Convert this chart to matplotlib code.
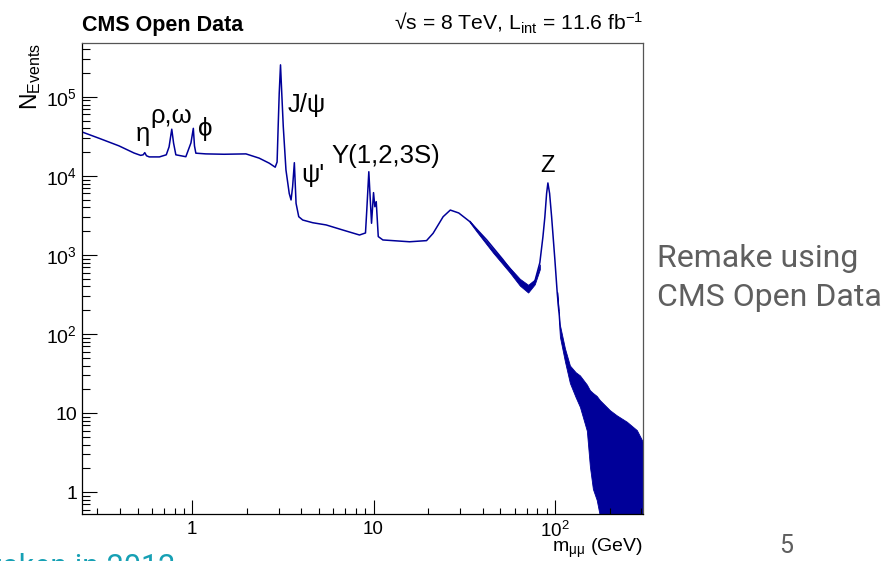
import numpy as np
import matplotlib
matplotlib.use("Agg")
import matplotlib.pyplot as plt
from matplotlib.ticker import LogLocator, NullFormatter

plt.rcParams['font.family'] = ['Liberation Sans', 'DejaVu Sans']
plt.rcParams['mathtext.fontset'] = 'custom'
plt.rcParams['mathtext.rm'] = 'Liberation Sans'
plt.rcParams['mathtext.it'] = 'Liberation Sans:italic'
plt.rcParams['mathtext.bf'] = 'Liberation Sans:bold'
plt.rcParams['mathtext.default'] = 'regular'

# dimuon invariant mass spectrum (GeV, events per bin)
mass = [0.247, 0.306, 0.395, 0.478, 0.52, 0.537, 0.548, 0.56, 0.58, 0.66,
        0.72, 0.746, 0.772, 0.79, 0.813, 0.923, 0.985, 1.015, 1.03, 1.048,
        1.19, 1.5, 1.98, 2.34, 2.66, 2.87, 2.94, 2.98, 3.02, 3.07,
        3.12, 3.18, 3.29, 3.43, 3.51, 3.58, 3.66, 3.74, 3.87, 4.07,
        4.62, 5.48, 6.77, 8.37, 9.03, 9.18, 9.42, 9.75, 10.0, 10.17,
        10.35, 10.62, 11.26, 15.8, 19.6, 21.3, 24.2, 26.5, 29.5, 33.9,
        42.1, 51.6, 64.1, 70.0, 77.4, 82.6, 85.9, 88.0, 90.0, 91.5,
        93.5, 95.9, 100.0, 103.0, 105.0]
events = [3.6e4, 3.0e4, 2.4e4, 1.95e4, 1.82e4, 1.85e4, 1.97e4, 1.8e4, 1.74e4, 1.74e4,
          1.85e4, 2.33e4, 3.9e4, 2.6e4, 1.85e4, 1.75e4, 2.62e4, 4.0e4, 2.4e4, 1.94e4,
          1.9e4, 1.88e4, 1.9e4, 1.68e4, 1.45e4, 1.29e4, 1.5e4, 4.2e4, 1.1e5, 2.54e5,
          1.1e5, 4.2e4, 1.19e4, 6.0e3, 4.97e3, 7.3e3, 1.47e4, 4.5e3, 3.05e3, 2.77e3,
          2.56e3, 2.4e3, 2.07e3, 1.79e3, 1.9e3, 3.7e3, 1.13e4, 2.52e3, 6.15e3, 4.08e3,
          4.73e3, 1.71e3, 1.55e3, 1.47e3, 1.52e3, 1.88e3, 3.05e3, 3.7e3, 3.4e3, 2.65e3,
          1.55e3, 880, 460, 370, 460, 800, 1.7e3, 3.0e3, 6.0e3, 8.15e3,
          6.0e3, 3.05e3, 864, 330, 200]

# bin-to-bin spread of the Drell-Yan continuum below the Z
dy_mass = [33.9, 36.9, 45.6, 56.4, 64.1, 71.2, 77.4, 82.6]
dy_hi = [2.72e3, 2.12e3, 1.18e3, 690, 500, 420, 490, 760]
dy_lo = [2.6e3, 2.0e3, 1.07e3, 600, 410, 335, 425, 660]

# high mass tail, few events per bin (lower edge hits empty bins)
tail_mass = [103, 106.6, 113.6, 121, 130, 137.4, 150, 156, 162, 170,
             177, 201, 219, 249, 283, 306]
tail_hi = [340, 130, 66, 40, 33, 30, 23, 19.5, 18, 16.5,
           14.6, 10.9, 9.4, 7.8, 6.1, 4.3]
tail_lo = [300, 92, 45, 24, 16, 12, 6, 2.1, 1.1, 0.8,
           0.5, 0.5, 0.5, 0.5, 0.5, 0.5]

peak_names = ['η', 'ρ,ω', 'ϕ', 'J/ψ', "ψ'", 'Υ(1,2,3S)', 'Z']

line_col = '#000099'

fig = plt.figure(figsize=(8.85, 5.61), dpi=100)
W, H = 885.0, 561.0
ax = fig.add_axes([82 / W, 1 - 514 / H, (643 - 82) / W, (514 - 43) / H])

ax.plot(mass, events, color=line_col, lw=1.1)
ax.fill_between(dy_mass, dy_lo, dy_hi, color=line_col, lw=0.6)
ax.fill_between(tail_mass, tail_lo, tail_hi, color=line_col, lw=0.6)

ax.set_xscale('log')
ax.set_yscale('log')
ax.set_xlim(0.247, 306)
ax.set_ylim(0.53, 4.8e5)

# ROOT-like axis cosmetics
ax.set_xticks([1, 10, 100], ['1', '10', '$10^{2}$'])
ax.set_yticks([1, 10, 100, 1e3, 1e4, 1e5],
              ['1', '10', '$10^{2}$', '$10^{3}$', '$10^{4}$', '$10^{5}$'])
for axis in (ax.xaxis, ax.yaxis):
    axis.set_minor_locator(LogLocator(base=10, subs=np.arange(2, 10), numticks=100))
    axis.set_minor_formatter(NullFormatter())
ax.tick_params(which='both', direction='in', top=False, right=False, width=0.8)
ax.tick_params(axis='y', which='major', length=11, labelsize=14, pad=3.5)
ax.tick_params(axis='y', which='minor', length=6)
ax.tick_params(axis='x', which='major', length=10, labelsize=13.5, pad=4.8)
ax.tick_params(axis='x', which='minor', length=4.5)
for side in ('top', 'right'):
    ax.spines[side].set_color('#555555')
    ax.spines[side].set_linewidth(0.9)
for side in ('left', 'bottom'):
    ax.spines[side].set_color('black')
    ax.spines[side].set_linewidth(0.9)

ax.set_xlabel('m$_{μμ}$ (GeV)', fontsize=14, ha='right', va='baseline')
ax.xaxis.set_label_coords(1.0, -38.5 / 471.)
ax.set_ylabel('N$_{Events}$', fontsize=16.5, ha='right', va='bottom')
ax.yaxis.set_label_coords(-39 / 561., 1.0)

# header
ax.text(0.0, 1 + 12 / 471., 'CMS Open Data', transform=ax.transAxes,
        fontsize=15.5, fontweight='bold', va='baseline', ha='left')
ax.text(1.0, 1 + 13 / 471., '√s = 8 TeV, L$_{int}$ = 11.6 fb$^{-1}$',
        transform=ax.transAxes, fontsize=15.2, va='baseline', ha='right')

# resonance labels
label_pos = [(0.536, 2.77e4, 'center'), (0.766, 4.73e4, 'center'),
             (1.18, 3.21e4, 'center'), (3.35, 6.5e4, 'left'),
             (4.0, 8.4e3, 'left'), (5.86, 1.45e4, 'left'),
             (91.5, 1.13e4, 'center')]
for name, (x, y, ha) in zip(peak_names, label_pos):
    ax.text(x, y, name, fontsize=18.5 if name != 'Z' else 17, ha=ha, va='baseline')

# slide text around the plot
grey = '#5f5f5f'
fig.text(657 / W, 1 - 267 / H, 'Remake using', family='Roboto', fontsize=23, color=grey)
fig.text(657 / W, 1 - 306 / H, 'CMS Open Data', family='Roboto', fontsize=23, color=grey)
fig.text(786 / W, 1 - 553 / H, '5', family='Roboto', fontsize=18, color=grey, ha='center')
fig.text(175 / W, 1 - 576 / H, 'taken in 2012', family='Roboto', fontsize=22, color='#16a0b4', ha='right')

fig.savefig('out.png', dpi=100)
